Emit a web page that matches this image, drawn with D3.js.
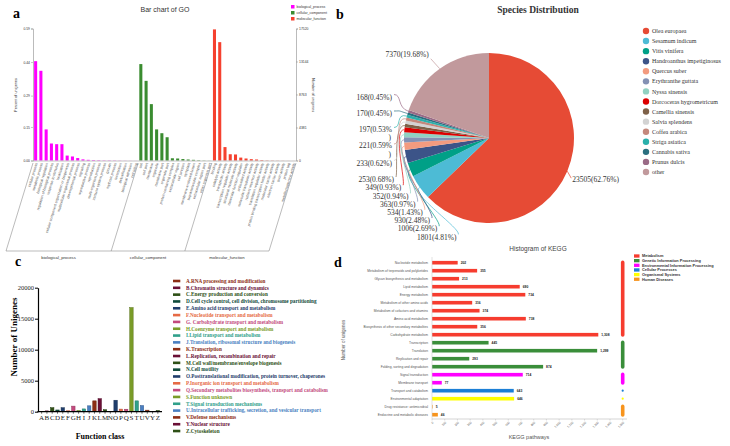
<!DOCTYPE html>
<html>
<head>
<meta charset="utf-8">
<script src="https://cdn.jsdelivr.net/npm/d3@7"></script>
<style>
body { margin: 0; background: #fff; }
</style>
</head>
<body>
<div id="mainDiv"></div>
<script>
// ---------- a: GO ----------
var goGroups = ["biological_process", "cellular_component", "molecular_function"];
var bpTerms = ["cellular process", "metabolic process", "biological regulation", "regulation of biological process",
  "response to stimulus", "localization", "cellular component organization or biogenesis", "multicellular organismal process",
  "developmental process", "signaling", "reproductive process", "reproduction", "multi-organism process",
  "immune system process", "growth", "rhythmic process", "locomotion", "detoxification", "biological adhesion", "cell killing"];
var bpPct = [0.444, 0.401, 0.139, 0.076, 0.073, 0.073, 0.022, 0.018, 0.011, 0.005, 0.003, 0.002, 0.0015,
  0.001, 0.001, 0.0008, 0.0006, 0.0004, 0.0003, 0.0002];
var ccTerms = ["cell", "cell part", "membrane", "organelle", "membrane part", "organelle part", "protein-containing complex",
  "extracellular region", "cell junction", "symplast", "membrane-enclosed lumen", "supramolecular complex",
  "extracellular region part", "other organism part"];
var ccPct = [0.431, 0.356, 0.252, 0.139, 0.122, 0.104, 0.010, 0.009, 0.0065, 0.0045, 0.003, 0.0015, 0.0008, 0.0004];
var mfTerms = ["binding", "catalytic activity", "transporter activity", "transcription regulator activity",
  "structural molecule activity", "molecular function regulator", "antioxidant activity", "molecular transducer activity",
  "nutrient reservoir activity", "translation regulator activity", "protein binding transcription factor activity",
  "molecular carrier activity", "electron carrier activity", "toxin activity", "protein tag", "metallochaperone activity"];
var mfPct = [0.586, 0.529, 0.060, 0.028, 0.027, 0.013, 0.009, 0.006, 0.0045, 0.002, 0.001, 0.0008, 0.0005, 0.0004, 0.0002, 0.0001];
var goPctTicks = [0, 0.15, 0.29, 0.44, 0.59];
var goNumTicks = [0, 4381, 8763, 13144, 17520];

// ---------- b: species ----------
var species = ["Olea europaea", "Sesamum indicum", "Vitis vinifera", "Handroanthus impetiginosus", "Quercus suber",
  "Erythranthe guttata", "Nyssa sinensis", "Dorcoceras hygrometricum", "Camellia sinensis", "Salvia splendens",
  "Coffea arabica", "Striga asiatica", "Cannabis sativa", "Prunus dulcis", "other"];
var speciesCounts = [23505, 1801, 1006, 930, 534, 363, 352, 349, 253, 233, 221, 197, 170, 168, 7370];
var speciesPct = ["62.76", "4.81", "2.69", "2.48", "1.43", "0.97", "0.94", "0.93", "0.68", "0.62", "0.59", "0.53", "0.45", "0.45", "19.68"];
var wrappedLabels = [197, 221];

// ---------- c: KOG ----------
var cogLetters = ["A", "B", "C", "D", "E", "F", "G", "H", "I", "J", "K", "L", "M", "N", "O", "P", "Q", "S", "T", "U", "V", "Y", "Z"];
var cogNames = ["A.RNA processing and modification", "B.Chromatin structure and dynamics", "C.Energy production and conversion",
  "D.Cell cycle control, cell division, chromosome partitioning", "E.Amino acid transport and metabolism",
  "F.Nucleotide transport and metabolism", "G. Carbohydrate transport and metabolism", "H.Coenzyme transport and metabolism",
  "I.Lipid transport and metabolism", "J.Translation, ribosomal structure and biogenesis", "K.Transcription",
  "L.Replication, recombination and repair", "M.Cell wall/membrane/envelope biogenesis", "N.Cell motility",
  "O.Posttranslational modification, protein turnover, chaperones", "P.Inorganic ion transport and metabolism",
  "Q.Secondary metabolites biosynthesis, transport and catabolism", "S.Function unknown", "T.Signal transduction mechanisms",
  "U.Intracellular trafficking, secretion, and vesicular transport", "V.Defense mechanisms", "Y.Nuclear structure", "Z.Cytoskeleton"];
var cogCounts = [60, 130, 650, 280, 640, 150, 900, 200, 450, 950, 1750, 2100, 320, 10, 1850, 420, 400, 16800, 1750, 1000, 250, 30, 200];
var cogTicks = [0, 5000, 10000, 15000, 20000];

// ---------- d: KEGG ----------
var keggTerms = ["Nucleotide metabolism", "Metabolism of terpenoids and polyketides", "Glycan biosynthesis and metabolism",
  "Lipid metabolism", "Energy metabolism", "Metabolism of other amino acids", "Metabolism of cofactors and vitamins",
  "Amino acid metabolism", "Biosynthesis of other secondary metabolites", "Carbohydrate metabolism", "Transcription",
  "Translation", "Replication and repair", "Folding, sorting and degradation", "Signal transduction", "Membrane transport",
  "Transport and catabolism", "Environmental adaptation", "Drug resistance: antimicrobial", "Endocrine and metabolic diseases"];
var keggCounts = [202, 355, 213, 690, 734, 316, 374, 738, 356, 1308, 445, 1299, 293, 874, 714, 77, 643, 646, 5, 46];
var keggClass = [0, 0, 0, 0, 0, 0, 0, 0, 0, 0, 1, 1, 1, 1, 2, 2, 3, 4, 5, 5];
var keggClasses = ["Metabolism", "Genetic Information Processing", "Environmental Information Processing",
  "Cellular Processes", "Organismal Systems", "Human Diseases"];
var keggTicks = [0, 100, 200, 300, 400, 500, 600, 700, 800, 900, 1000, 1100, 1200, 1300, 1400, 1500];

// ---------- colours ----------
var goColors = ["#ff00ff", "#3a8c30", "#f5412f"];
var speciesColors = ["#e64b35", "#4dbbd5", "#00a087", "#3c5488", "#f39b7f", "#8491b4", "#91d1c2", "#dc0000",
  "#7e6148", "#d3d3d3", "#c4887c", "#2ab0ab", "#2a6f7f", "#9a6a86", "#c1999c"];
var cogColors = ["#8c2d14", "#6a0f35", "#2e5016", "#0f4a3a", "#1f3d6b", "#e66a45", "#c34a7e", "#7a9c28", "#30a08a", "#4a7fc1"];
var keggColors = ["#f63c2f", "#3a8e3a", "#ff00ff", "#1c7fd6", "#ffff00", "#f7941d"];

var serif = "'Liberation Serif', 'Times New Roman', serif";
var sans = "'Liberation Sans', Arial, sans-serif";

var svg = d3.select("#mainDiv").append("svg")
    .attr("width", 730).attr("height", 446)
    .style("font-family", sans);

// panel letters
[["a", 13, 18], ["b", 336, 19], ["c", 15, 266], ["d", 334, 267]].forEach(function(p) {
    svg.append("text").attr("x", p[1]).attr("y", p[2]).text(p[0])
        .style("font-family", serif).style("font-weight", "bold").style("font-size", "14px");
});

// ================= a =================
var ga = svg.append("g");
var goTerms = bpTerms.concat(ccTerms, mfTerms);
var goVals = bpPct.concat(ccPct, mfPct);
var goGrp = bpTerms.map(function() { return 0; })
    .concat(ccTerms.map(function() { return 1; }), mfTerms.map(function() { return 2; }));

var gx = d3.scaleBand().domain(d3.range(goTerms.length)).range([33, 296]).paddingInner(0.42).paddingOuter(0.21);
var gy = d3.scaleLinear().domain([0, 0.59]).range([160.5, 28.5]);
var gyN = d3.scaleLinear().domain([0, 17520]).range([160.5, 28.5]);

ga.append("text").attr("x", 165).attr("y", 12).attr("text-anchor", "middle")
    .style("font-size", "7px").style("fill", "#333").text("Bar chart of GO");

ga.selectAll("rect.go").data(goVals).enter().append("rect")
    .attr("x", function(d, i) { return gx(i); })
    .attr("width", gx.bandwidth())
    .attr("y", function(d) { return gy(d); })
    .attr("height", function(d) { return gy(0) - gy(d); })
    .attr("fill", function(d, i) { return goColors[goGrp[i]]; });

var axL = ga.append("g").attr("transform", "translate(33,0)")
    .call(d3.axisLeft(gy).tickValues(goPctTicks).tickFormat(d3.format(".2f")).tickSize(2).tickPadding(1));
var axR = ga.append("g").attr("transform", "translate(296,0)")
    .call(d3.axisRight(gyN).tickValues(goNumTicks).tickFormat(d3.format("d")).tickSize(2).tickPadding(1));
[axL, axR].forEach(function(a) {
    a.select(".domain").attr("stroke", "#bbb").attr("stroke-width", 1);
    a.selectAll(".tick line").attr("stroke", "#888").attr("stroke-width", 0.5);
    a.selectAll("text").style("font-size", "3.4px").attr("fill", "#333");
});
ga.append("line").attr("x1", 33).attr("x2", 296).attr("y1", 161).attr("y2", 161)
    .attr("stroke", "#999").attr("stroke-width", 0.6);

ga.selectAll("text.golab").data(goTerms).enter().append("text")
    .attr("transform", function(d, i) {
        return "translate(" + (gx(i) + gx.bandwidth() / 2 + 0.8) + ",163) rotate(-73)";
    })
    .attr("text-anchor", "end").attr("dy", "0.35em")
    .style("font-size", "3.6px").attr("fill", "#444")
    .text(function(d) { return d; });

// group brackets
var starts = [0, bpTerms.length, bpTerms.length + ccTerms.length, goTerms.length];
var bx = starts.map(function(i) { return i < goTerms.length ? gx(i) - gx.step() * 0.21 : 296; });
bx.forEach(function(x) {
    ga.append("line").attr("x1", x).attr("y1", 163).attr("x2", x - 27).attr("y2", 251)
        .attr("stroke", "#777").attr("stroke-width", 0.5);
});
ga.append("line").attr("x1", bx[0] - 27).attr("x2", bx[3] - 27).attr("y1", 251).attr("y2", 251)
    .attr("stroke", "#777").attr("stroke-width", 0.5);
goGroups.forEach(function(g, k) {
    ga.append("text").attr("x", (bx[k] + bx[k + 1]) / 2 - 27).attr("y", 259)
        .attr("text-anchor", "middle").style("font-size", "4.2px").attr("fill", "#333").text(g);
});

ga.append("text").attr("transform", "translate(17,95) rotate(-90)").attr("text-anchor", "middle")
    .style("font-size", "3.8px").attr("fill", "#333").text("Percent of unigenes");
ga.append("text").attr("transform", "translate(312,95) rotate(90)").attr("text-anchor", "middle")
    .style("font-size", "3.8px").attr("fill", "#333").text("Number of unigenes");

goGroups.forEach(function(g, k) {
    ga.append("rect").attr("x", 291).attr("y", 5 + k * 6).attr("width", 3.5).attr("height", 3.5).attr("fill", goColors[k]);
    ga.append("text").attr("x", 296.5).attr("y", 6.75 + k * 6).attr("dy", "0.35em")
        .style("font-size", "3.5px").attr("fill", "#333").text(g);
});

// ================= b =================
var gb = svg.append("g");
var pcx = 489, pcy = 138, pr = 85;
gb.append("text").attr("x", 538).attr("y", 13).attr("text-anchor", "middle")
    .style("font-family", serif).style("font-weight", "bold").style("font-size", "9.5px")
    .attr("fill", "#333").text("Species Distribution");

var pieData = d3.pie().sort(null).value(function(d) { return d; })(speciesCounts);
var arc = d3.arc().innerRadius(0).outerRadius(pr);
var pg = gb.append("g").attr("transform", "translate(" + pcx + "," + pcy + ")");
pg.selectAll("path").data(pieData).enter().append("path")
    .attr("d", arc)
    .attr("fill", function(d, i) { return speciesColors[i]; });

function rim(a, r) { return [pcx + r * Math.sin(a), pcy - r * Math.cos(a)]; }
var nSp = speciesCounts.length;
pieData.forEach(function(d, i) {
    var a = (d.startAngle + d.endAngle) / 2;
    var p0 = rim(a, pr);
    var txt = speciesCounts[i] + "(" + speciesPct[i] + "%)";
    var col = speciesColors[i];
    if (i === 0 || i === nSp - 1) {
        var right = Math.sin(a) > 0;
        var lx = right ? p0[0] + 5 : p0[0] - 11;
        var ly = right ? p0[1] + 11 : p0[1] - 12;
        gb.append("path").attr("d", "M" + p0 + "L" + [right ? lx - 1 : lx + 2, right ? ly - 4 : ly + 2])
            .attr("fill", "none").attr("stroke", col).attr("stroke-width", 0.7);
        gb.append("text").attr("x", lx).attr("y", ly).attr("text-anchor", right ? "start" : "end")
            .style("font-family", serif).style("font-size", "7.5px").attr("fill", "#333").text(txt);
        return;
    }
    var k = nSp - 2 - i; // 0 = topmost small label
    var ly, xe;
    if (k <= 4) { ly = 97 + 16.5 * k; xe = 392; }
    else { var j = k - 5; ly = 179.5 + 8.2 * j; xe = 394 + 7.2 * j + (j === 7 ? 12 : 0); }
    var p1 = rim(a, pr + 12);
    var pend = [xe + 2, ly - 2.5];
    var c2 = k <= 4 ? [xe + 10, ly - 2.5] : [xe + 4, ly - 9];
    gb.append("path").attr("d", "M" + p0 + "C" + p1 + " " + c2 + " " + pend)
        .attr("fill", "none").attr("stroke", col).attr("stroke-width", 0.7);
    var wrapped = wrappedLabels.indexOf(speciesCounts[i]) >= 0;
    gb.append("text").attr("x", xe).attr("y", ly + (wrapped ? 1.6 : 2.6)).attr("text-anchor", "end")
        .style("font-family", serif).style("font-size", "7.5px").attr("fill", "#333")
        .text(wrapped ? txt.slice(0, -1) : txt);
    if (wrapped) {
        gb.append("text").attr("x", xe - 1).attr("y", ly + 10.4).attr("text-anchor", "end")
            .style("font-family", serif).style("font-size", "7.5px").attr("fill", "#333").text(")");
    }
});

species.forEach(function(s, i) {
    gb.append("circle").attr("cx", 646).attr("cy", 31 + 10.07 * i).attr("r", 3.2).attr("fill", speciesColors[i]);
    gb.append("text").attr("x", 652).attr("y", 31 + 10.07 * i).attr("dy", "0.35em")
        .style("font-family", serif).style("font-size", "6px").attr("fill", "#333").text(s);
});

// ================= c =================
var gc = svg.append("g");
var cx = d3.scaleBand().domain(cogLetters).range([39, 160.5]).paddingInner(0.35).paddingOuter(0.175);
var cy = d3.scaleLinear().domain([0, 20000]).range([411.7, 287.7]);

gc.selectAll("rect.cog").data(cogCounts).enter().append("rect")
    .attr("x", function(d, i) { return cx(cogLetters[i]); })
    .attr("width", cx.bandwidth())
    .attr("y", function(d) { return cy(d); })
    .attr("height", function(d) { return cy(0) - cy(d); })
    .attr("fill", function(d, i) { return cogColors[i % 10]; })
    .attr("stroke", function(d, i) { return d3.color(cogColors[i % 10]).darker(0.8); })
    .attr("stroke-width", 0.5);

var cyAx = gc.append("g").attr("transform", "translate(38,0)")
    .call(d3.axisLeft(cy).tickValues(cogTicks).tickFormat(d3.format("d")).tickSize(3).tickSizeOuter(0).tickPadding(1));
cyAx.select(".domain").attr("stroke", "#000").attr("stroke-width", 1.2);
cyAx.selectAll(".tick line").attr("stroke", "#000").attr("stroke-width", 1);
cyAx.selectAll("text").style("font-family", serif).style("font-size", "6.5px").attr("fill", "#222");

var cxAx = gc.append("g").attr("transform", "translate(0,411.7)")
    .call(d3.axisBottom(cx).tickSize(2).tickSizeOuter(0).tickPadding(1));
cxAx.select(".domain").remove();
cxAx.selectAll(".tick line").attr("stroke", "#000").attr("stroke-width", 0.6);
cxAx.selectAll("text").style("font-family", serif).style("font-size", "7px").attr("fill", "#222");
gc.append("line").attr("x1", 37.4).attr("x2", 162).attr("y1", 411.7).attr("y2", 411.7)
    .attr("stroke", "#000").attr("stroke-width", 1.2);

gc.append("text").attr("transform", "translate(17,337) rotate(-90)").attr("text-anchor", "middle")
    .style("font-family", serif).style("font-weight", "bold").style("font-size", "9px").text("Number of Unigenes");
gc.append("text").attr("x", 100).attr("y", 439).attr("text-anchor", "middle")
    .style("font-family", serif).style("font-weight", "bold").style("font-size", "8px").text("Function class");

cogNames.forEach(function(n, i) {
    var col = cogColors[i % 10];
    gc.append("rect").attr("x", 173).attr("y", 281 + 6.82 * i - 1.3).attr("width", 7.3).attr("height", 2.6).attr("fill", col);
    gc.append("text").attr("x", 186).attr("y", 281 + 6.82 * i).attr("dy", "0.35em")
        .style("font-family", serif).style("font-weight", "bold").style("font-size", "5.2px").attr("fill", col).text(n);
});

// ================= d =================
var gd = svg.append("g");
var kx = d3.scaleLinear().domain([0, 1500]).range([432, 622.7]);
var ky = d3.scaleBand().domain(d3.range(keggTerms.length)).range([258.7, 418.7]).paddingInner(0.55).paddingOuter(0.275);

gd.append("text").attr("x", 538).attr("y", 251).attr("text-anchor", "middle")
    .style("font-size", "6.5px").attr("fill", "#444").text("Histogram of KEGG");

gd.selectAll("rect.kegg").data(keggCounts).enter().append("rect")
    .attr("x", kx(0))
    .attr("y", function(d, i) { return ky(i); })
    .attr("width", function(d) { return kx(d) - kx(0); })
    .attr("height", ky.bandwidth())
    .attr("fill", function(d, i) { return keggColors[keggClass[i]]; });

gd.selectAll("text.kv").data(keggCounts).enter().append("text")
    .attr("x", function(d) { return kx(d) + 3; })
    .attr("y", function(d, i) { return ky(i) + ky.bandwidth() / 2; })
    .attr("dy", "0.35em").style("font-size", "3.3px").style("font-weight", "bold").attr("fill", "#222")
    .text(function(d) { return d3.format(",")(d); });

gd.selectAll("text.kl").data(keggTerms).enter().append("text")
    .attr("x", 428)
    .attr("y", function(d, i) { return ky(i) + ky.bandwidth() / 2; })
    .attr("dy", "0.35em").attr("text-anchor", "end").style("font-size", "3.3px").attr("fill", "#555")
    .text(function(d) { return d; });

gd.append("line").attr("x1", 432).attr("x2", 432).attr("y1", 257).attr("y2", 419).attr("stroke", "#ccc").attr("stroke-width", 0.6);
gd.append("line").attr("x1", 432).attr("x2", 627).attr("y1", 419).attr("y2", 419).attr("stroke", "#bbb").attr("stroke-width", 0.6);
keggTicks.forEach(function(t) {
    gd.append("line").attr("x1", kx(t)).attr("x2", kx(t)).attr("y1", 419).attr("y2", 420.5).attr("stroke", "#bbb").attr("stroke-width", 0.5);
    gd.append("text").attr("transform", "translate(" + (kx(t) + 1) + ",422) rotate(-45)")
        .attr("text-anchor", "end").attr("dy", "0.35em").style("font-size", "3px").attr("fill", "#555")
        .text(d3.format(",")(t));
});

keggClasses.forEach(function(c, ci) {
    var rows = d3.range(keggTerms.length).filter(function(i) { return keggClass[i] === ci; });
    var y1 = ky(rows[0]) + ky.bandwidth() / 2, y2 = ky(rows[rows.length - 1]) + ky.bandwidth() / 2;
    gd.append("line").attr("x1", kx(1500)).attr("x2", kx(1500))
        .attr("y1", rows.length > 1 ? y1 - 0.3 : y1).attr("y2", rows.length > 1 ? y2 + 0.3 : y2)
        .attr("stroke", keggColors[ci]).attr("stroke-width", rows.length > 1 ? 3.6 : 2.2).attr("stroke-linecap", "round");
    gd.append("rect").attr("x", 634).attr("y", 256 + 4.65 * ci - 1.65).attr("width", 5.5).attr("height", 3.3).attr("fill", keggColors[ci]);
    gd.append("text").attr("x", 642).attr("y", 256 + 4.65 * ci).attr("dy", "0.35em")
        .style("font-size", "3.9px").style("font-weight", "bold").attr("fill", "#333").text(c);
});

gd.append("text").attr("x", 529).attr("y", 439).attr("text-anchor", "middle")
    .style("font-size", "5.5px").attr("fill", "#555").text("KEGG pathways");
gd.append("text").attr("transform", "translate(345,340) rotate(-90)").attr("text-anchor", "middle")
    .style("font-size", "4.5px").attr("fill", "#555").text("Number of unigenes");
</script>
</body>
</html>
